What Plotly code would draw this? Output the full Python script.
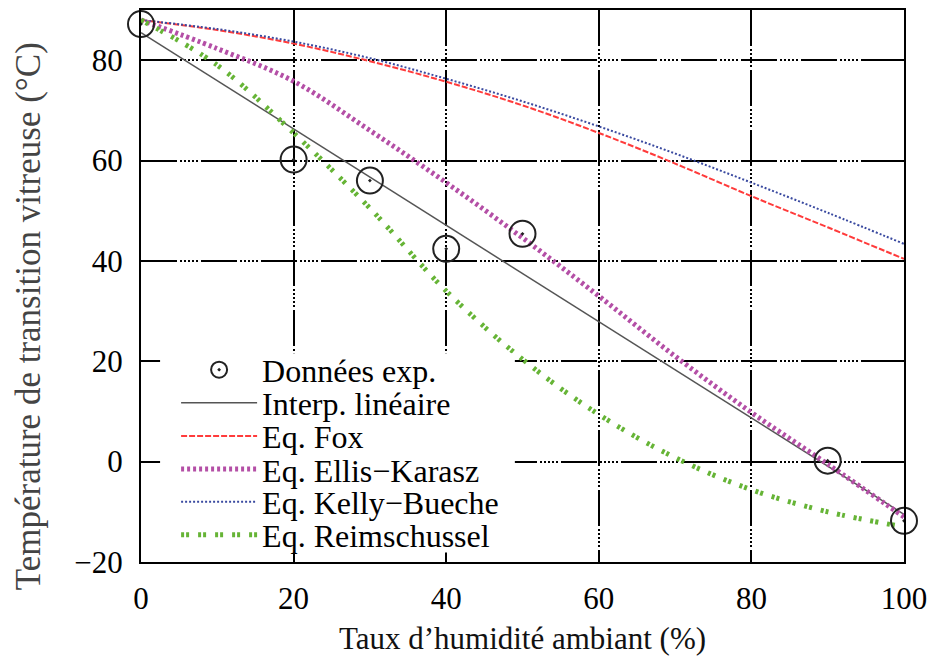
import plotly.graph_objects as go

# ---- data ----
exp_x = [0, 20, 30, 40, 50, 90, 100]
exp_y = [87.2, 60.2, 56.0, 42.4, 45.4, 0.2, -11.8]

lin_x = [0, 100]
lin_y = [85.5, -10.5]

curve_x = [0, 10, 20, 30, 40, 50, 60, 70, 80, 90, 100]
fox_y = [88.0, 86.0, 83.3, 79.8, 75.7, 71.0, 65.5, 59.4, 52.9, 46.7, 40.4]
ellis_y = [88.0, 82.3, 75.8, 66.0, 55.6, 44.6, 33.0, 21.0, 9.8, -0.5, -11.0]
kelly_y = [88.0, 86.2, 83.7, 80.4, 76.3, 71.8, 66.8, 61.4, 55.6, 49.6, 43.4]
reim_y = [88.0, 79.0, 65.5, 50.5, 34.0, 20.4, 9.4, 0.8, -5.6, -10.0, -13.0]

names = ["Données exp.", "Interp. linéaire", "Eq. Fox", "Eq. Ellis\u2212Karasz",
         "Eq. Kelly\u2212Bueche", "Eq. Reimschussel"]

x_ticks = [0, 20, 40, 60, 80, 100]
y_ticks = [-20, 0, 20, 40, 60, 80]

FONT = "Liberation Serif, Times New Roman, DejaVu Serif, serif"
fig = go.Figure()

fig.add_trace(go.Scatter(x=lin_x, y=lin_y, mode="lines", name=names[1],
                         line=dict(color="#555555", width=1.5), legend="legend2"))
fig.add_trace(go.Scatter(x=curve_x, y=fox_y, mode="lines", name=names[2], line_shape="spline",
                         line=dict(color="#ff3b3b", width=2, dash="6px,2px"), legend="legend3"))
fig.add_trace(go.Scatter(x=curve_x, y=kelly_y, mode="lines", name=names[4], line_shape="spline",
                         line=dict(color="#3a4aa0", width=2, dash="2px,2px"), legend="legend5"))
fig.add_trace(go.Scatter(x=curve_x, y=ellis_y, mode="lines", name=names[3], line_shape="spline",
                         line=dict(color="#b44fa6", width=5, dash="3px,3px"), legend="legend4"))
fig.add_trace(go.Scatter(x=curve_x, y=reim_y, mode="lines", name=names[5], line_shape="spline",
                         line=dict(color="#66b436", width=5, dash="3px,2px,3px,9px"), legend="legend6"))
fig.add_trace(go.Scatter(x=exp_x, y=exp_y, mode="markers", name=names[0], cliponaxis=False,
                         marker=dict(symbol="circle-open-dot", size=26, color="#222222",
                                     line=dict(color="#222222", width=2)), legend="legend"))

grid_dash = "36px,3px,2px,2px,2px,2px,2px,2px,2px,2px,2px,3px"
axis_common = dict(
    showline=True, linecolor="black", linewidth=2, mirror="ticks",
    ticks="inside", ticklen=10, tickwidth=2, tickcolor="black",
    showgrid=True, gridcolor="black", gridwidth=1.5, griddash=grid_dash,
    zeroline=False, tickfont=dict(family=FONT, size=31, color="black"),
    automargin=False,
)

fig.update_xaxes(range=[0, 100], tickvals=x_ticks, ticklabelstandoff=8,
                 title=dict(text="Taux d\u2019humidité ambiant (%)",
                            font=dict(family=FONT, size=31, color="#111111"), standoff=12),
                 **axis_common)
fig.update_yaxes(range=[-20, 90], tickvals=y_ticks, ticklabelstandoff=10, **axis_common)

leg_x = 0.046
leg_ys = [0.348, 0.288, 0.228, 0.168, 0.109, 0.049]
legend_keys = ["legend", "legend2", "legend3", "legend4", "legend5", "legend6"]
layout_legends = {}
for k, yv in zip(legend_keys, leg_ys):
    layout_legends[k] = dict(x=leg_x, y=yv, xanchor="left", yanchor="middle",
                             bgcolor="rgba(0,0,0,0)", borderwidth=0, itemwidth=76,
                             font=dict(family=FONT, size=32, color="black"))

# the page body has an 8px margin: the figure is sized so the plot lands where the reference has it
fig.update_layout(
    width=928, height=656,
    margin=dict(l=133, r=32, t=2, b=102),
    paper_bgcolor="white", plot_bgcolor="white",
    showlegend=True,
    # opaque key background (hides the grid behind the legend, like the reference)
    shapes=[dict(type="rect", xref="paper", yref="paper", layer="above",
                 x0=0.025, x1=0.49, y0=0.017, y1=0.378,
                 fillcolor="white", line=dict(width=0))],
    annotations=[dict(text="Température de transition vitreuse (°C)", textangle=-90,
                      xref="paper", yref="paper", x=-0.147, y=0.445,
                      xanchor="center", yanchor="middle", showarrow=False,
                      font=dict(family=FONT, size=35, color="#444444"))],
    **layout_legends,
)

fig.write_html("out.html")
